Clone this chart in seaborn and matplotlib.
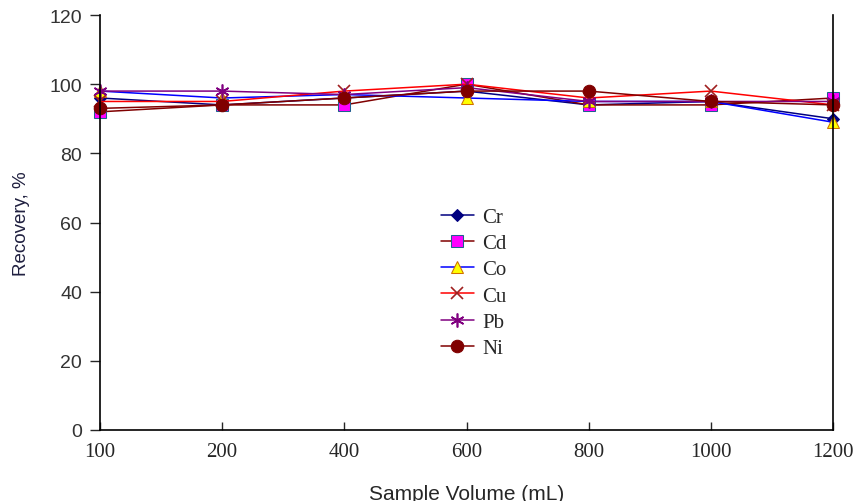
import pandas as pd
import matplotlib.pyplot as plt
import seaborn as sns

# Sample volumes (categorical, equally spaced on the axis)
volumes = ['100', '200', '400', '600', '800', '1000', '1200']

# Recovery values (%)
cr = [96, 94, 96, 98, 94, 95, 90]
cd = [92, 94, 94, 100, 94, 94, 96]
co = [98, 96, 97, 96, 95, 95, 89]
cu = [95, 95, 98, 100, 96, 98, 94]
pb = [98, 98, 97, 99, 95, 95, 95]
ni = [93, 94, 96, 98, 98, 95, 94]

sns.set_style('white')

fig = plt.figure(figsize=(8.57, 5.02), dpi=100)
ax = fig.add_axes([100 / 857, 1 - 431 / 502, 733 / 857, 415 / 502])

styles = [
    ('Cr', cr, dict(color='#000080', marker='D', markersize=6,
                    markerfacecolor='#000080', markeredgecolor='#000080')),
    ('Cd', cd, dict(color='#800000', marker='s', markersize=9,
                    markerfacecolor='#ff00ff', markeredgecolor='#1f5f8f')),
    ('Co', co, dict(color='#0000ff', marker='^', markersize=9,
                    markerfacecolor='#ffff00', markeredgecolor='#d07000')),
    ('Cu', cu, dict(color='#ff0000', marker='x', markersize=8,
                    markeredgecolor='#a02020', markeredgewidth=1.2)),
    ('Pb', pb, dict(color='#800080', marker=(6, 2, 0), markersize=10,
                    markeredgecolor='#800080', markeredgewidth=1.2)),
    ('Ni', ni, dict(color='#800000', marker='o', markersize=9,
                    markerfacecolor='#800000', markeredgecolor='#800000')),
]

for name, vals, kw in styles:
    df = pd.DataFrame({'volume': volumes, 'recovery': vals})
    sns.lineplot(data=df, x='volume', y='recovery', ax=ax, label=name,
                 linewidth=1.1, clip_on=False, **kw)

ax.set_xlim(0, len(volumes) - 1)
ax.set_ylim(0, 120)
ax.set_yticks(range(0, 121, 20))

ax.spines['top'].set_visible(False)
for s in ['left', 'bottom', 'right']:
    ax.spines[s].set_color('black')
    ax.spines[s].set_linewidth(1.2)

ax.tick_params(axis='y', direction='out', length=7, width=1, left=True,
               labelsize=14, labelcolor='#333333', pad=6)
ax.tick_params(axis='x', direction='in', length=6, width=1, bottom=True,
               labelsize=15, pad=9)
for lab in ax.get_xticklabels():
    lab.set_fontfamily('Liberation Serif')
for lab in ax.get_yticklabels():
    lab.set_fontfamily('Liberation Sans')

ax.set_xlabel('Sample Volume (mL)', fontsize=15, family='Liberation Sans',
              labelpad=16)
ax.set_ylabel('Recovery, %', fontsize=13.5, family='Liberation Sans',
              labelpad=14, color='#202040')

ax.legend(loc='center', bbox_to_anchor=(0.51, 0.355), frameon=False,
          prop={'family': 'Liberation Serif', 'size': 15},
          labelspacing=0.32, handlelength=1.6, handletextpad=0.4)

fig.savefig('out.png', dpi=100)
